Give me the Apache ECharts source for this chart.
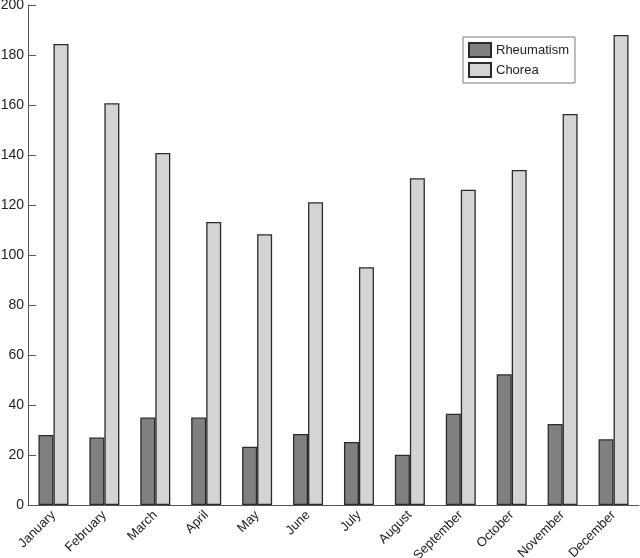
<!DOCTYPE html>
<html><head><meta charset="utf-8">
<script src="https://cdn.jsdelivr.net/npm/echarts@6/dist/echarts.min.js"></script>
<style>html,body{margin:0;padding:0;background:#fff}#c{width:640px;height:558px}</style>
</head><body><div id="c"></div>
<script>
const months = ['January','February','March','April','May','June','July','August','September','October','November','December'];
const rheumatism = [28, 27, 35, 35, 23.3, 28.4, 25.2, 20.1, 36.5, 52.3, 32.4, 26.3];
const chorea = [184.4, 160.7, 140.8, 113.2, 108.3, 121.1, 95.1, 130.7, 126.1, 134, 156.4, 188];
const yTicks = [0, 20, 40, 60, 80, 100, 120, 140, 160, 180, 200];

const font = 'Liberation Sans';
const chart = echarts.init(document.getElementById('c'), null, {renderer: 'canvas'});
chart.setOption({
  animation: false,
  backgroundColor: '#fff',
  textStyle: {fontFamily: font},
  grid: {left: 28, right: 1, top: 5, bottom: 53, containLabel: false, outerBoundsMode: 'none'},
  legend: {
    orient: 'vertical', left: 463, top: 37,
    icon: 'rect',
    itemWidth: 22, itemHeight: 14, itemGap: 4,
    padding: [5, 6, 5, 5],
    borderColor: '#777', borderWidth: 1,
    textStyle: {fontFamily: font, fontSize: 13, color: '#222'},
    data: ['Rheumatism', 'Chorea']
  },
  xAxis: {
    type: 'category', data: months,
    boundaryGap: true,
    axisLine: {lineStyle: {color: '#555', width: 1}},
    axisTick: {inside: true, length: 10, alignWithLabel: false, lineStyle: {color: '#555'}},
    axisLabel: {rotate: 45, fontSize: 13, color: '#222', fontFamily: font, margin: 8, interval: 0}
  },
  yAxis: {
    type: 'value', min: yTicks[0], max: yTicks[yTicks.length - 1], interval: 20,
    splitLine: {show: false},
    axisLine: {show: true, lineStyle: {color: '#555', width: 1}},
    axisTick: {show: true, inside: true, length: 8, lineStyle: {color: '#555'}},
    axisLabel: {fontSize: 14, color: '#222', fontFamily: font, margin: 4}
  },
  series: [
    {name: 'Rheumatism', type: 'bar', data: rheumatism, barWidth: 15, barGap: '0%',
     itemStyle: {color: '#808080', borderColor: '#2a2a2a', borderWidth: 1.3}},
    {name: 'Chorea', type: 'bar', data: chorea, barWidth: 15, barGap: '0%',
     itemStyle: {color: '#d4d4d4', borderColor: '#2a2a2a', borderWidth: 1.3}}
  ]
});
</script></body></html>
